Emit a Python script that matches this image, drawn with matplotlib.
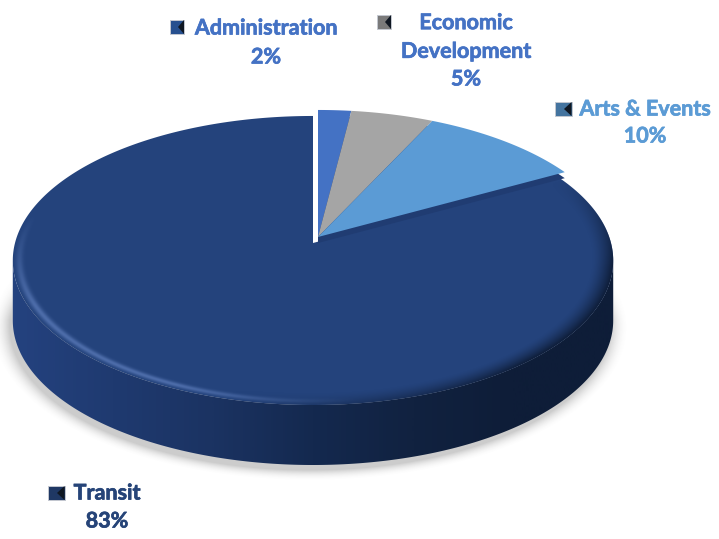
import numpy as np
import matplotlib
matplotlib.use("Agg")
from matplotlib import pyplot as plt
from matplotlib import patheffects
from matplotlib.colors import LinearSegmentedColormap, to_rgb
from matplotlib.patches import Polygon

labels = ["Administration", "Economic\nDevelopment", "Arts & Events", "Transit"]
shares = [2, 5, 10, 83]
slice_colors = ["#4472c4", "#a5a5a5", "#5b9bd5", "#24437c"]
text_colors = ["#4472c4", "#4472c4", "#5b9bd5", "#264478"]
key_colors = ["#27508f", "#7a7a7a", "#44749f", "#1f3864"]

label_xy = [(266, 28), (466, 37), (645, 109), (107, 493)]
pct_xy = [(266, 57), (466, 79), (645, 136), (107, 521)]
key_xy = [(177, 27), (384, 22), (563, 109), (56, 493)]
key_w = [14, 14, 17, 17]

# pie geometry, in figure pixels
cx, cy = 313, 243
rx, ry, persp = 298, 142.4, 0.121
depth = 60
# the three small slices are pulled out from the big one
small_x, small_y = 318, 237


def project(theta, x0=cx, y0=cy):
    # theta runs clockwise from 12 o'clock
    u = np.sin(theta)
    v = np.cos(theta)
    w = 1 + persp * v
    return x0 + rx * u / w, y0 - ry * v / w


def unproject(x, y):
    a = (x - cx) / rx
    b = (cy - y) / ry
    v = b / (1 - persp * b)
    u = a * (1 + persp * v)
    return u, v


def ramp(a, lo, hi):
    return np.clip((a - lo) / (hi - lo), 0, 1)


def rgba(color, alpha):
    img = np.zeros(alpha.shape + (4,))
    img[..., :3] = to_rgb(color)
    img[..., 3] = alpha
    return img


fig = plt.figure(figsize=(7.19, 5.39), dpi=100)
ax = fig.add_axes([0, 0, 1, 1])
extent = (0, 719, 539, 0)

yy, xx = np.mgrid[0:539, 0:719] + 0.5

# soft shadow under the pie
u, v = unproject(xx + 3, yy - depth - 5)
r = np.hypot(u, v)
shadow = 0.36 * (1 - ramp(r, 1, 1.06)) ** 2 * ramp(yy, 270, 320)
ax.imshow(rgba("#707070", shadow), extent=extent, aspect="auto", zorder=1)

# side wall, shaded left to right
tangent = np.arccos(-persp)
side_t = np.linspace(tangent, 2 * np.pi - tangent, 300)
sx, sy = project(side_t)
wall = np.concatenate([np.c_[sx, sy], np.c_[sx[::-1], sy[::-1] + depth]])
wall_cmap = LinearSegmentedColormap.from_list(
    "wall", ["#24427f", "#1f3a70", "#1b3362", "#14294f", "#112240", "#0e1d38", "#0e1d38"])
im = ax.imshow(np.linspace(0, 1, 600)[None, :], cmap=wall_cmap, extent=(12, 614, 539, 0),
               aspect="auto", zorder=2)
wall_patch = Polygon(wall, closed=True, transform=ax.transData, fc="none", ec="none")
ax.add_patch(wall_patch)
im.set_clip_path(wall_patch)

# slices, clockwise from the top
edges = np.cumsum([0] + shares) / sum(shares) * 2 * np.pi
big_t = np.linspace(edges[3], edges[4], 400)
bx, by = project(big_t)
big_slice = Polygon(np.vstack([[cx, cy], np.c_[bx, by]]), closed=True, fc=slice_colors[3], ec="none", zorder=3)
ax.add_patch(big_slice)

# rim shading on the big slice
u, v = unproject(xx, yy)
r = np.hypot(u, v)
theta = np.degrees(np.arctan2(u, v)) % 360
glow = np.exp(-(((r - 0.978) / 0.012) ** 2)) * ramp(theta, 172, 205) * (1 - ramp(theta, 245, 282))
im1 = ax.imshow(rgba("#7595d6", 0.5 * glow), extent=extent, aspect="auto", zorder=4)
im1.set_clip_path(big_slice)
dark = ramp(r, 0.93, 1.0) ** 1.5 * ramp(theta, 62, 100) * (1 - ramp(theta, 140, 195))
im2 = ax.imshow(rgba("#0e1d38", dark), extent=extent, aspect="auto", zorder=4)
im2.set_clip_path(big_slice)

# cut face below the pulled out slices
low_t = np.linspace(edges[0], edges[3], 100)
lx, ly = project(low_t, small_x, small_y)
ax.add_patch(Polygon(np.vstack([[small_x, small_y + 6], np.c_[lx, ly + 6]]), closed=True,
                     fc="#203c72", ec="none", zorder=5))
for i in range(3):
    t = np.linspace(edges[i], edges[i + 1], 100)
    x, y = project(t, small_x, small_y)
    pts = np.vstack([[small_x, small_y], np.c_[x, y]])
    ax.add_patch(Polygon(pts, closed=True, fc=slice_colors[i], ec="none", zorder=6))

# text and small bevelled legend keys
for i in range(len(labels)):
    heavier = [patheffects.withStroke(linewidth=0.5, foreground=text_colors[i])]
    ax.text(*label_xy[i], labels[i], color=text_colors[i], fontsize=15.5, fontweight="bold",
            family="Lato", ha="center", va="center", linespacing=1.45, zorder=7, path_effects=heavier)
    ax.text(*pct_xy[i], f"{shares[i]}%", color=text_colors[i], fontsize=15.5, fontweight="bold",
            family="Lato", ha="center", va="center", zorder=7, path_effects=heavier)
    kx, ky = key_xy[i]
    hw, hh = key_w[i] / 2, 7
    ax.add_patch(Polygon([(kx - hw, ky - hh), (kx + hw, ky - hh), (kx + hw, ky + hh), (kx - hw, ky + hh)],
                         closed=True, fc=key_colors[i], ec="#c4c8d0", lw=0.7, zorder=7))
    ax.add_patch(Polygon([(kx + hw, ky - hh), (kx + hw, ky + hh), (kx + 1, ky)],
                         closed=True, fc="#0f1722", ec="none", zorder=8))

ax.set_xlim(0, 719)
ax.set_ylim(539, 0)
ax.axis("off")

fig.savefig("out.png", dpi=100)
